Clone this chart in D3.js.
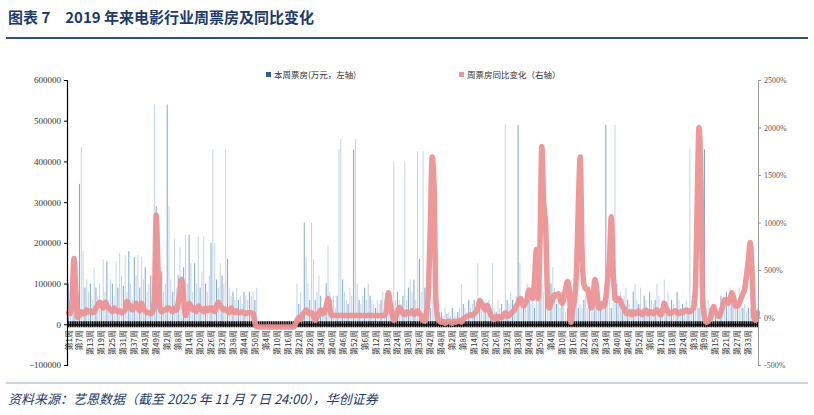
<!DOCTYPE html>
<html><head><meta charset="utf-8">
<script src="https://cdn.jsdelivr.net/npm/d3@7/dist/d3.min.js"></script>
<style>body{margin:0;background:#fff}svg{display:block}</style>
</head><body><svg id="c" width="814" height="415"></svg>
<script>
const yearLengths=[53,52,52,52,52,52,27,38];
const boxOffice=[
100,110,140,95,105,85,345,435,180,90,110,80,100,60,140,90,70,100,60,160,
80,155,60,110,100,70,155,90,175,120,95,170,80,180,100,60,165,120,170,90,
165,110,140,80,100,120,60,540,290,150,95,130,80,100,540,290,110,80,210,90,
120,190,80,140,220,100,220,150,80,150,100,215,90,130,215,100,80,120,200,430,
200,110,90,150,120,100,430,160,90,70,80,60,90,60,70,50,80,70,60,80,
70,80,60,90,0,0,0,0,0,0,0,0,0,0,0,0,0,0,0,0,
0,0,0,0,10,100,50,80,30,250,165,100,60,250,160,60,80,120,70,40,
50,100,195,80,60,70,40,70,430,455,110,80,60,50,90,70,430,455,100,60,
50,70,90,60,100,70,60,50,40,60,50,60,80,60,70,50,60,40,400,60,
80,60,50,70,400,60,90,110,80,110,60,425,160,80,425,90,60,150,40,70,
150,60,40,30,30,20,40,25,30,20,40,30,20,30,40,100,50,40,30,60,
40,50,60,30,150,60,40,30,50,40,60,30,150,40,30,60,40,50,30,490,
60,50,80,60,40,70,490,150,60,40,80,100,60,50,90,40,70,120,60,100,
80,110,120,60,100,140,90,50,60,40,80,60,30,40,60,50,40,60,50,40,
50,40,60,70,40,80,30,60,50,40,60,40,50,60,490,120,60,40,80,490,
100,60,80,40,70,90,60,50,40,80,100,60,50,90,40,70,60,40,80,60,
50,60,100,70,40,60,110,50,80,40,60,50,40,80,60,40,50,40,60,40,
430,60,40,70,50,40,60,80,430,40,60,40,30,50,40,30,40,70,50,40,
80,70,90,60,80,70,50,90,60,40,50,30,40,40,30,60,20,40].map(v=>v*1000);
const yoy=[
50,40,200,620,300,0,30,60,40,50,80,60,70,50,60,100,130,160,140,100,
160,130,100,80,60,100,80,60,70,50,60,80,170,140,100,80,120,150,100,70,
150,90,70,50,50,40,60,200,1080,500,100,60,80,80,100,100,80,60,100,80,
150,280,400,200,20,80,150,120,80,100,60,120,100,80,60,100,70,100,80,100,
60,120,160,120,100,80,90,70,50,100,60,50,70,50,50,60,50,40,50,50,
50,40,-50,-100,-100,-100,-100,-100,-100,-100,-100,-100,-100,-100,-100,-100,-100,-100,-100,-100,
-100,-100,-100,-100,-80,-30,0,-20,30,50,80,60,40,50,20,-30,0,50,80,40,
60,120,200,90,20,20,20,20,20,20,20,20,20,20,20,20,20,20,20,20,
20,20,20,20,20,20,20,20,20,20,20,20,20,20,80,260,150,40,-30,0,
60,105,80,40,30,60,40,50,70,30,50,70,40,20,-30,-40,60,300,1000,1690,
1400,200,0,-40,-50,-40,-60,-50,-40,-50,-60,-40,-50,-40,-30,-50,-20,0,10,20,
30,20,40,60,100,180,150,120,80,130,90,30,0,-20,10,-10,10,0,20,50,
10,20,40,60,80,120,150,200,180,120,150,200,290,250,200,400,715,200,800,1800,
1200,1000,300,100,150,200,240,230,250,200,150,200,300,380,300,-50,100,200,500,1200,
1690,700,350,300,300,200,100,200,400,300,100,100,150,120,200,400,600,1060,500,200,
180,200,180,120,100,50,40,60,30,60,40,50,70,40,30,60,80,40,50,60,
40,60,80,50,30,60,150,100,60,40,50,60,70,50,40,60,50,70,80,60,
60,80,100,300,1200,2000,1500,200,0,-50,-40,-20,60,115,60,30,10,60,120,190,
190,150,200,260,200,120,120,150,200,250,300,450,600,790,500,0,-30,50];
const leftTicks=[-100000,0,100000,200000,300000,400000,500000,600000];
const rightTicks=[-500,0,500,1000,1500,2000,2500];
const legendLabels=["本周票房(万元，左轴)","周票房同比变化（右轴）"];

const weeks=[];yearLengths.forEach((L,yi)=>{for(let w=1;w<=L;w++)weeks.push(yi*100+w);});
const cats=weeks.slice(0,boxOffice.length);
const svg=d3.select("#c");
const serif="'Liberation Serif','DejaVu Serif',serif";
const cjk="'Noto Sans CJK SC',sans-serif";
svg.append("text").attr("x",8).attr("y",23).attr("font-family",cjk).attr("font-weight","bold").attr("font-size",15).attr("fill","#1c3a6e").text("图表 7　2019 年来电影行业周票房及同比变化");
svg.append("line").attr("x1",6).attr("x2",808).attr("y1",38).attr("y2",38).attr("stroke","#2c4f8e").attr("stroke-width",2);
svg.append("line").attr("x1",6).attr("x2",808).attr("y1",383).attr("y2",383).attr("stroke","#7f8fa8").attr("stroke-width",0.8);
svg.append("text").attr("x",8).attr("y",404).attr("font-family",cjk).attr("font-style","italic").attr("font-size",13).attr("fill","#1c3a6e").text("资料来源：艺恩数据（截至 2025 年 11 月 7 日 24:00），华创证券");

const x=d3.scaleBand().domain(cats).range([68,758]).paddingInner(0.45);
const yL=d3.scaleLinear().domain([-100000,600000]).range([365,80]);
const yR=d3.scaleLinear().domain([-500,2500]).range([365,80]);

svg.append("g").selectAll("rect").data(boxOffice).join("rect")
 .attr("x",(d,i)=>x(cats[i])).attr("width",x.bandwidth())
 .attr("y",d=>yL(Math.max(0,d))).attr("height",d=>Math.abs(yL(d)-yL(0)))
 .attr("fill",(d,i)=>i%3===0?"#5f91c4":"#b3cbe4").attr("opacity",0.8);

// x axis
const xa=svg.append("g").attr("transform",`translate(0,${yL(0)})`)
 .call(d3.axisBottom(x).tickSize(0).tickFormat(""));
xa.select(".domain").attr("stroke","#000").attr("stroke-width",1.2);
svg.append("g").selectAll("line").data(cats).join("line")
 .attr("x1",d=>x(d)+x.bandwidth()/2).attr("x2",d=>x(d)+x.bandwidth()/2)
 .attr("y1",yL(0)-3).attr("y2",yL(0)+3).attr("stroke","#000").attr("stroke-width",1.4);
svg.append("g").selectAll("text").data(cats.filter((d,i)=>i%6===0)).join("text")
 .attr("transform",d=>`translate(${x(d)+x.bandwidth()/2+3},330) rotate(-90)`)
 .attr("text-anchor","end").attr("font-family",cjk).attr("font-size",8).attr("fill","#333")
 .text(d=>"第"+(d%100)+"周");

const line=d3.line().x((d,i)=>x(cats[i])+x.bandwidth()/2).y(d=>yR(d)).curve(d3.curveMonotoneX);
svg.append("path").datum(yoy).attr("d",line).attr("fill","none").attr("stroke","#ec9294").attr("stroke-width",5.5).attr("stroke-linejoin","round").attr("stroke-linecap","round").attr("opacity",0.95);

const la=svg.append("g").attr("transform","translate(67,0)").call(d3.axisLeft(yL).tickValues(leftTicks).tickSize(3).tickFormat(d3.format("d")));
la.select(".domain").attr("stroke","#000").attr("stroke-width",1.2);
la.selectAll("text").attr("font-family",serif).attr("font-size",9).attr("fill","#333");
const ra=svg.append("g").attr("transform","translate(758,0)").call(d3.axisRight(yR).tickValues(rightTicks).tickSize(3).tickFormat(d=>d+"%"));
ra.select(".domain").attr("stroke","#999");ra.selectAll("line").attr("stroke","#999");
ra.selectAll("text").attr("font-family",serif).attr("font-size",8).attr("fill","#555");

const lg=[{x:266,c:"#2c5f9e"},{x:459,c:"#ec9294"}];
lg.forEach((l,i)=>{svg.append("rect").attr("x",l.x).attr("y",72).attr("width",5).attr("height",5).attr("fill",l.c);
 svg.append("text").attr("x",l.x+8).attr("y",78).attr("font-family",cjk).attr("font-size",8.5).attr("fill","#333").text(legendLabels[i]);});
</script></body></html>
